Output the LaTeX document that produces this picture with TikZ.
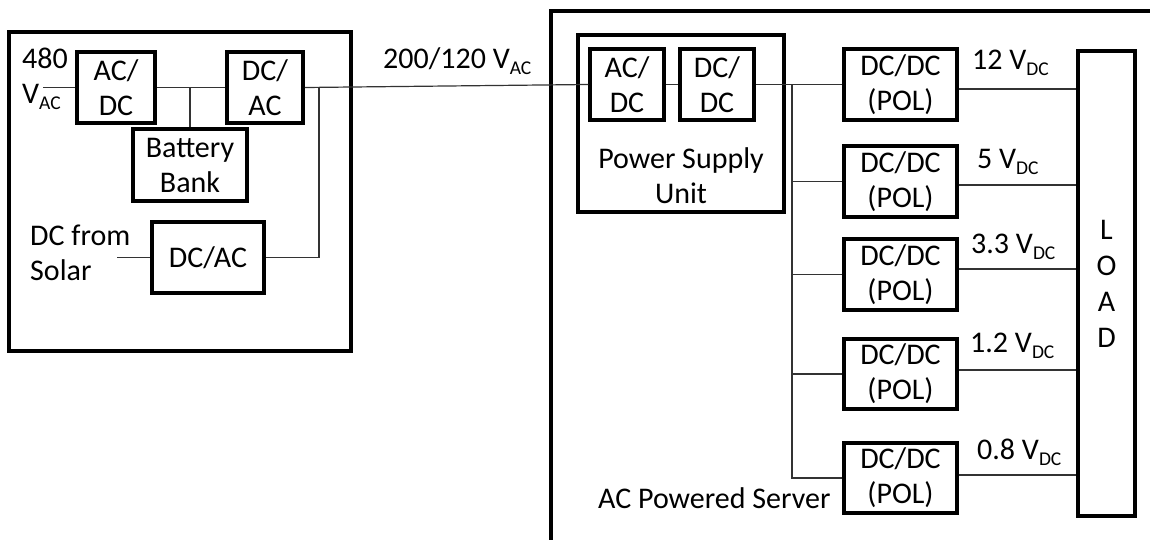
\documentclass[tikz,border=0pt]{standalone}
\usepackage{fontspec}
\setmainfont{Carlito}
\newcommand\lowsub[1]{\raisebox{-6pt}{\fontsize{19.5}{19.5}\selectfont #1}}
\begin{document}
\begin{tikzpicture}[x=1pt,y=-1pt,
  txt/.style={font=\fontsize{30}{35}\selectfont, inner sep=0pt},
  blk/.style={draw, line width=3.5pt, inner sep=0pt, align=center, font=\fontsize{30}{35}\selectfont},
  outer/.style={draw, line width=3.5pt, inner sep=0pt},
  wire/.style={draw, line width=1.2pt, black!80}]
\useasboundingbox (0,0) rectangle (1150,539);
% UPS (left)
\node[outer, minimum width=342pt, minimum height=319pt] (ups) at (180,191.5) {};
\node[blk, minimum width=78pt, minimum height=71pt] (acdc1) at (116,87.5) {AC/\\DC};
\node[blk, minimum width=76pt, minimum height=71pt] (dcac1) at (265,87.5) {DC/\\AC};
\node[blk, minimum width=114pt, minimum height=72pt] (batt) at (190,165) {Battery\\Bank};
\node[blk, minimum width=112pt, minimum height=71pt] (dcac2) at (208,257.5) {DC/AC};
\node[txt, align=left, anchor=base west] (vin) at (22,103) {480\\V\lowsub{AC}};
\node[txt, align=left, anchor=base west] (solar) at (30,280) {DC from\\Solar};
\coordinate (inA) at (43,87.5);
\coordinate (inS) at (117,257.5);
\coordinate (jB) at (190,87.5);
\coordinate (jS) at (319,87);
% server (right)
\draw[line width=3.5pt] (1152,11) -- (551,11) -- (551,541);
\node[outer, minimum width=206pt, minimum height=177pt] (psu) at (681,123.5) {};
\node[blk, minimum width=74pt, minimum height=71pt] (acdc2) at (627,84.5) {AC/\\DC};
\node[blk, minimum width=74pt, minimum height=71pt] (dcdc) at (717,84.5) {DC/\\DC};
\node[txt, align=center, anchor=base] (psulbl) at (681,203) {Power Supply\\Unit};
\node[txt, anchor=base west] (bus) at (383,68) {200/120 V\lowsub{AC}};
\node[txt, anchor=base west] (srv) at (598,508) {AC Powered Server};
\node[blk, minimum width=113pt, minimum height=71pt] (pol1) at (900.5,84.5) {DC/DC\\(POL)};
\node[blk, minimum width=113pt, minimum height=71pt] (pol2) at (900.5,181.5) {DC/DC\\(POL)};
\node[blk, minimum width=113pt, minimum height=71pt] (pol3) at (900.5,274.5) {DC/DC\\(POL)};
\node[blk, minimum width=113pt, minimum height=70pt] (pol4) at (900.5,374) {DC/DC\\(POL)};
\node[blk, minimum width=113pt, minimum height=70pt] (pol5) at (900.5,478) {DC/DC\\(POL)};
\node[blk, minimum width=57pt, minimum height=465pt, font=\fontsize{30}{36}\selectfont] (load) at (1106.5,283.5) {L\\O\\A\\D};
\node[txt, anchor=base west] (v1) at (972,69) {12 V\lowsub{DC}};
\node[txt, anchor=base west] (v2) at (977,168) {5 V\lowsub{DC}};
\node[txt, anchor=base west] (v3) at (971,253) {3.3 V\lowsub{DC}};
\node[txt, anchor=base west] (v4) at (970,352) {1.2 V\lowsub{DC}};
\node[txt, anchor=base west] (v5) at (977,459) {0.8 V\lowsub{DC}};
\coordinate (busx) at (792,0);
% wires
\draw[wire] (inA) -- (acdc1.west);
\draw[wire] (acdc1.east) -- (dcac1.west);
\draw[wire] (jB) -- (batt.north);
\draw[wire] (inS) -- (dcac2.west);
\draw[wire] (dcac2.east) -| (jS);
\draw[wire] (dcac1.east) -- (acdc2.west);
\draw[wire] (acdc2.east) -- (dcdc.west);
\draw[wire] (dcdc.east) -- (pol1.west);
\draw[wire] (busx |- pol1.west) |- (pol5.west);
\draw[wire] (busx |- pol2.west) -- (pol2.west);
\draw[wire] (busx |- pol3.west) -- (pol3.west);
\draw[wire] (busx |- pol4.west) -- (pol4.west);
\draw[wire] ([yshift=-4.5pt]pol1.east) -- ([yshift=-4.5pt]pol1.east -| load.west);
\draw[wire] ([yshift=-3.5pt]pol2.east) -- ([yshift=-3.5pt]pol2.east -| load.west);
\draw[wire] ([yshift=5.5pt]pol3.east) -- ([yshift=5.5pt]pol3.east -| load.west);
\draw[wire] ([yshift=4pt]pol4.east) -- ([yshift=4pt]pol4.east -| load.west);
\draw[wire] ([yshift=3pt]pol5.east) -- ([yshift=3pt]pol5.east -| load.west);
\end{tikzpicture}
\end{document}
